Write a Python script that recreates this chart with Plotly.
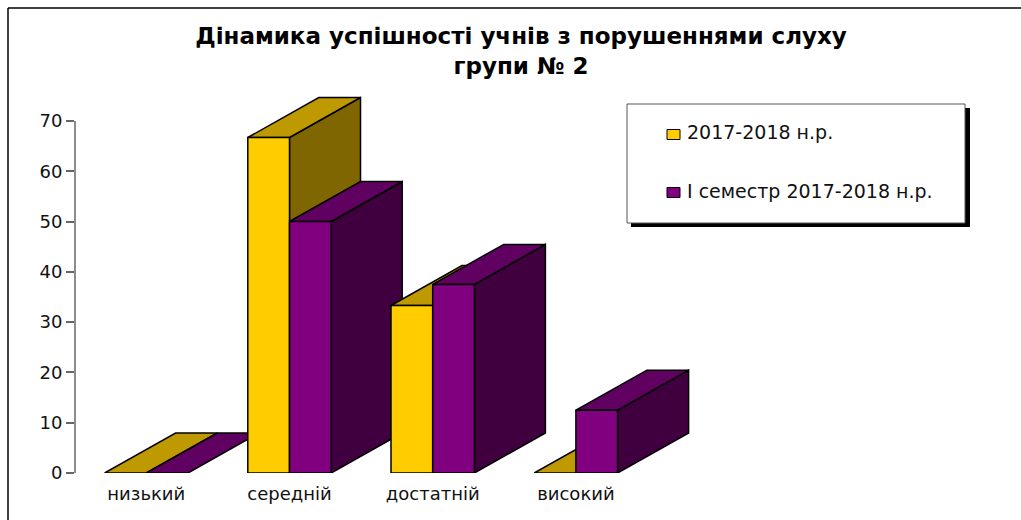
import plotly.graph_objects as go

categories = ["низький", "середній", "достатній", "високий"]
series_names = ["2017-2018 н.р.", "І семестр 2017-2018 н.р."]
values_2017 = [0, 66.7, 33.3, 0]
values_sem1 = [0, 50, 37.5, 12.5]
y_ticks = [0, 10, 20, 30, 40, 50, 60, 70]
title_text = "Дінамика успішності учнів з порушеннями слуху<br>групи № 2"

W, H = 1021, 520
L, B = 75, 47
X_UNIT = 143.2       # px per category
Y_UNIT = 5.03        # px per value unit
X0_PX = 146.3        # px centre of first category
Y0_PX = H - B

FONT = "DejaVu Sans, sans-serif"
TICK_SIZE = 18
LEGEND_SIZE = 19

BAR_W = 41.7 / X_UNIT
DEPTH_X = 71 / X_UNIT
DEPTH_Y = 40 / Y_UNIT

styles = [
    dict(front="#FFCC00", top="#BF9900", side="#806600", off=-0.5),
    dict(front="#800080", top="#600060", side="#400040", off=0.5),
]


def px(x):
    return (x - L) / (W - L)


def py(y):
    return (Y0_PX - y) / Y0_PX


fig = go.Figure()
edge = dict(color="#000000", width=1.5)
all_values = [values_2017, values_sem1]

for i, _ in enumerate(categories):
    for s, st in enumerate(styles):
        v = all_values[s][i]
        xc = i + st["off"] * BAR_W
        x0, x1 = xc - BAR_W / 2, xc + BAR_W / 2
        z = i * 10 + s * 3
        if v > 0:
            fig.add_trace(go.Scatter(
                x=[x1, x1 + DEPTH_X, x1 + DEPTH_X, x1, x1],
                y=[0, DEPTH_Y, v + DEPTH_Y, v, 0],
                mode="lines", fill="toself", fillcolor=st["side"], line=edge,
                hoverinfo="skip", showlegend=False, zorder=z,
            ))
        fig.add_trace(go.Scatter(
            x=[x0, x0 + DEPTH_X, x1 + DEPTH_X, x1, x0],
            y=[v, v + DEPTH_Y, v + DEPTH_Y, v, v],
            mode="lines", fill="toself", fillcolor=st["top"], line=edge,
            hoverinfo="skip", showlegend=False, zorder=z + 1,
        ))
        if v > 0:
            fig.add_trace(go.Bar(
                x=[xc], y=[v], width=BAR_W, name=series_names[s],
                marker=dict(color=st["front"], line=edge),
                showlegend=False, zorder=z + 2,
            ))

shapes = [
    # outer frame (left and top edges)
    dict(type="line", xref="paper", yref="paper", x0=px(8), x1=px(8), y0=py(8), y1=py(520),
         line=dict(color="#000000", width=1.5)),
    dict(type="line", xref="paper", yref="paper", x0=px(8), x1=px(1021), y0=py(8), y1=py(8),
         line=dict(color="#000000", width=1.5)),
    # value axis line, stops at the top tick
    dict(type="line", xref="paper", yref="y", x0=0, x1=0, y0=0, y1=70,
         line=dict(color="#666666", width=1.5)),
    # legend shadow and box
    dict(type="rect", xref="paper", yref="paper", x0=px(631), x1=px(970), y0=py(108), y1=py(227),
         fillcolor="#000000", line=dict(width=0)),
    dict(type="rect", xref="paper", yref="paper", x0=px(627), x1=px(965), y0=py(104), y1=py(223),
         fillcolor="#FFFFFF", line=dict(color="#555555", width=1)),
]
annotations = []
for s, (name, yc) in enumerate(zip(series_names, [134.5, 192.5])):
    shapes.append(dict(type="rect", xref="paper", yref="paper",
                       x0=px(667), x1=px(680), y0=py(yc - 5), y1=py(yc + 5),
                       fillcolor=styles[s]["front"], line=dict(color="#000000", width=1)))
    annotations.append(dict(xref="paper", yref="paper", x=px(685), y=py(yc - 2),
                            text=name, showarrow=False, xanchor="left", yanchor="middle",
                            font=dict(family=FONT, size=LEGEND_SIZE, color="#111111")))

fig.update_layout(
    width=W, height=H, autosize=False,
    margin=dict(l=L, r=0, t=0, b=B, autoexpand=False),
    paper_bgcolor="#FFFFFF", plot_bgcolor="rgba(0,0,0,0)",
    barmode="overlay", showlegend=False,
    title=dict(text=title_text, x=521 / W, xanchor="center", y=1 - 44 / H, yanchor="top",
               font=dict(family=FONT, size=23, color="#000000", weight="bold")),
    xaxis=dict(range=[(L - X0_PX) / X_UNIT, (W - X0_PX) / X_UNIT],
               tickvals=list(range(len(categories))), ticktext=categories,
               ticks="outside", ticklen=4, tickcolor="rgba(0,0,0,0)",
               showgrid=False, zeroline=False, showline=False,
               tickfont=dict(family=FONT, size=TICK_SIZE, color="#111111")),
    yaxis=dict(range=[0, Y0_PX / Y_UNIT], tickvals=y_ticks,
               ticks="outside", ticklen=8, tickcolor="#666666", tickwidth=1.5,
               showgrid=False, zeroline=False, showline=False,
               tickfont=dict(family=FONT, size=TICK_SIZE, color="#111111")),
    shapes=shapes, annotations=annotations,
)

fig.write_html("out.html", config={"displayModeBar": False},
               post_script="document.body.style.margin='0';")
